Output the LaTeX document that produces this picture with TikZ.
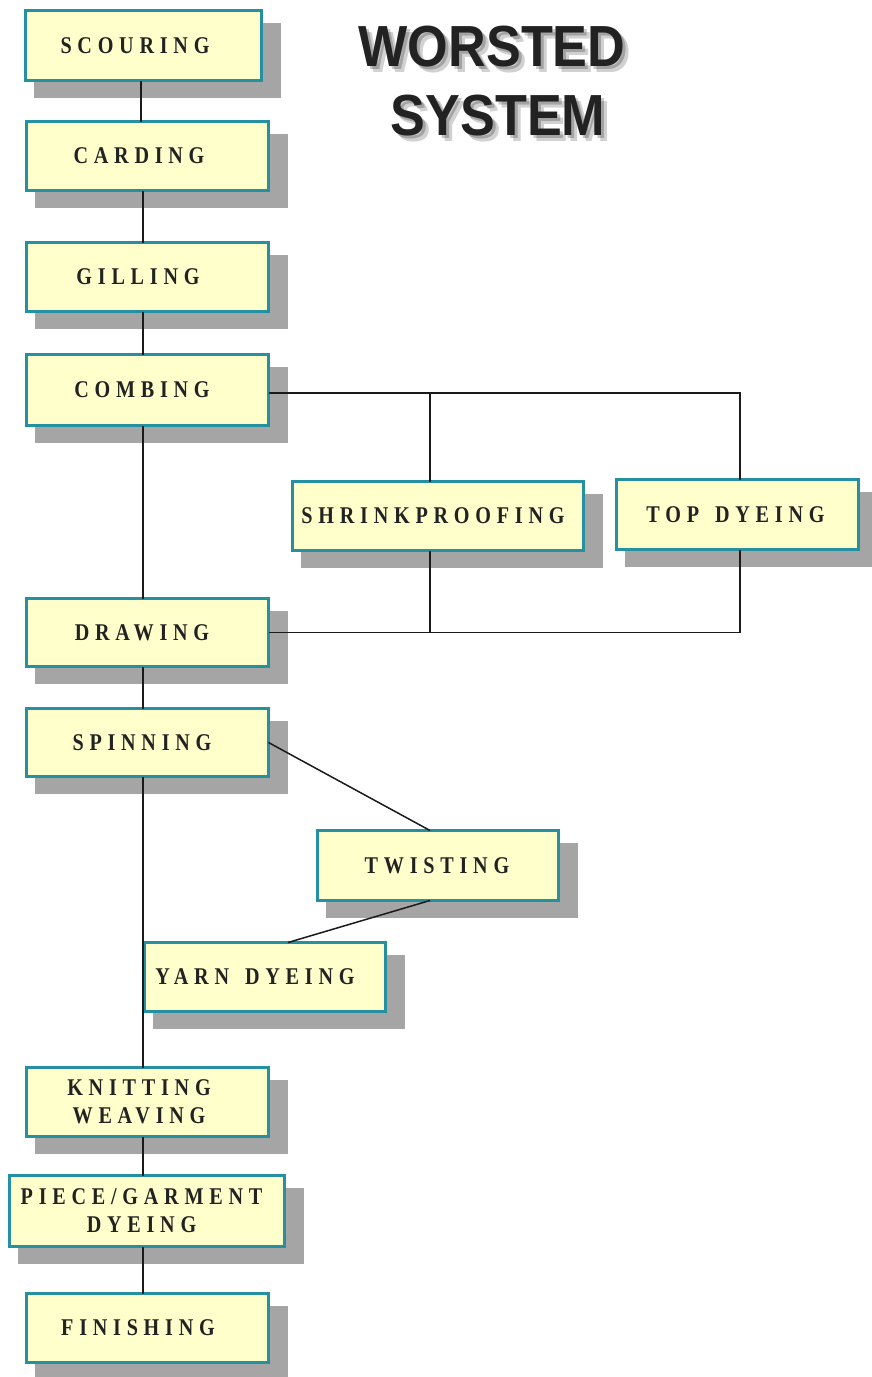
\documentclass[tikz,border=0pt]{standalone}
\usepackage{fontspec}
\setmainfont{Liberation Serif}
\newfontfamily\boxfont{Liberation Serif}[FakeStretch=0.84,LetterSpace=24]
\newfontfamily\titlefont{Liberation Sans}[FakeStretch=0.9]
\usetikzlibrary{backgrounds}
\definecolor{boxfill}{HTML}{FFFFCC}
\definecolor{boxedge}{HTML}{2590A0}
\definecolor{shadowc}{HTML}{A5A5A5}
\definecolor{txt}{HTML}{222222}
\definecolor{linec}{HTML}{1A1A1A}
\tikzset{
  proc/.style={draw=boxedge, line width=3pt, fill=boxfill, text=txt,
    font=\boxfont\bfseries\fontsize{24}{28}\selectfont, align=center,
    inner sep=0pt, outer sep=0pt},
  conn/.style={draw=linec, line width=1.5pt},
  ttl/.style={font=\titlefont\bfseries\fontsize{58}{60}\selectfont, anchor=base, inner sep=0pt},
}
\begin{document}
\begin{tikzpicture}[x=1pt,y=-1pt]
\useasboundingbox (0,0) rectangle (872,1377);
% title shadow
\foreach \d/\o in {3/0.22,6/0.18}{
  \node[ttl, text=black, opacity=\o] (ts1\d) at (492+\d,66+\d) {WORSTED};
  \node[ttl, text=black, opacity=\o] (ts2\d) at (498+\d,135+\d) {SYSTEM};
}
\node[ttl, text=txt] (title1) at (492,66) {WORSTED};
\node[ttl, text=txt] (title2) at (498,135) {SYSTEM};
% boxes
\node[proc, minimum width=236pt, minimum height=70pt] (scour) at (143.5,45.5) {SCOURING\hspace*{17pt}};
\node[proc, minimum width=242pt, minimum height=69pt] (card) at (147.5,156) {CARDING\hspace*{17pt}};
\node[proc, minimum width=242pt, minimum height=69pt] (gill) at (147.5,277) {GILLING\hspace*{19pt}};
\node[proc, minimum width=242pt, minimum height=71pt] (comb) at (147.5,390) {COMBING\hspace*{11pt}};
\node[proc, minimum width=291pt, minimum height=69pt] (shrink) at (438,516) {SHRINKPROOFING\hspace*{10pt}};
\node[proc, minimum width=242pt, minimum height=70pt] (top) at (737.5,514.5) {TOP\hspace*{16pt}DYEING\hspace*{4pt}};
\node[proc, minimum width=242pt, minimum height=68pt] (drawing) at (147.5,632.5) {DRAWING\hspace*{11pt}};
\node[proc, minimum width=242pt, minimum height=68pt] (spin) at (147.5,742.5) {SPINNING\hspace*{11pt}};
\node[proc, minimum width=241pt, minimum height=70pt] (twist) at (438,865.5) {TWISTING\hspace*{2pt}};
\node[proc, minimum width=241pt, minimum height=69pt] (yarn) at (265,977) {YARN\hspace*{16pt}DYEING\hspace*{20pt}};
\node[proc, minimum width=242pt, minimum height=69pt] (knit) at (147.5,1102) {KNITTING\hspace*{17pt}\\WEAVING\hspace*{17pt}};
\node[proc, minimum width=275pt, minimum height=71pt] (piece) at (147,1211) {PIECE/GARMENT\hspace*{11pt}\\DYEING\hspace*{11pt}};
\node[proc, minimum width=242pt, minimum height=69pt] (fin) at (147.5,1328) {FINISHING\hspace*{19pt}};
% shadows
\begin{pgfonlayer}{background}
\foreach \n in {scour,card,gill,comb,shrink,top,drawing,spin,twist,yarn,knit,piece,fin}{
  \fill[shadowc] ([xshift=8.5pt,yshift=-12.5pt]\n.north west) rectangle ([xshift=19.5pt,yshift=-17pt]\n.south east);
}
\end{pgfonlayer}
% columns
\coordinate (c1) at (141,0);
\coordinate (c2) at (143,0);
\coordinate (cS) at (430,0);
\coordinate (cT) at (740,0);
\coordinate (cY) at (288,0);
\coordinate (hy1) at (0,393);
% connectors
\draw[conn] (scour.south -| c1) -- (card.north -| c1);
\draw[conn] (card.south -| c2) -- (gill.north -| c2);
\draw[conn] (gill.south -| c2) -- (comb.north -| c2);
\draw[conn] (comb.south -| c2) -- (drawing.north -| c2);
\draw[conn] (comb.east |- hy1) -- (cT |- hy1) -- (top.north -| cT);
\draw[conn] (cS |- hy1) -- (shrink.north -| cS);
\draw[conn] (drawing.east) -- (drawing.east -| cT) -- (top.south -| cT);
\draw[conn] (shrink.south -| cS) -- (drawing.east -| cS);
\draw[conn] (drawing.south -| c2) -- (spin.north -| c2);
\draw[conn] (spin.east) -- (twist.north -| cS);
\draw[conn] (twist.south -| cS) -- (yarn.north -| cY);
\draw[conn] (spin.south -| c2) -- (knit.north -| c2);
\draw[conn] (knit.south -| c2) -- (piece.north -| c2);
\draw[conn] (piece.south -| c2) -- (fin.north -| c2);
\end{tikzpicture}
\end{document}
